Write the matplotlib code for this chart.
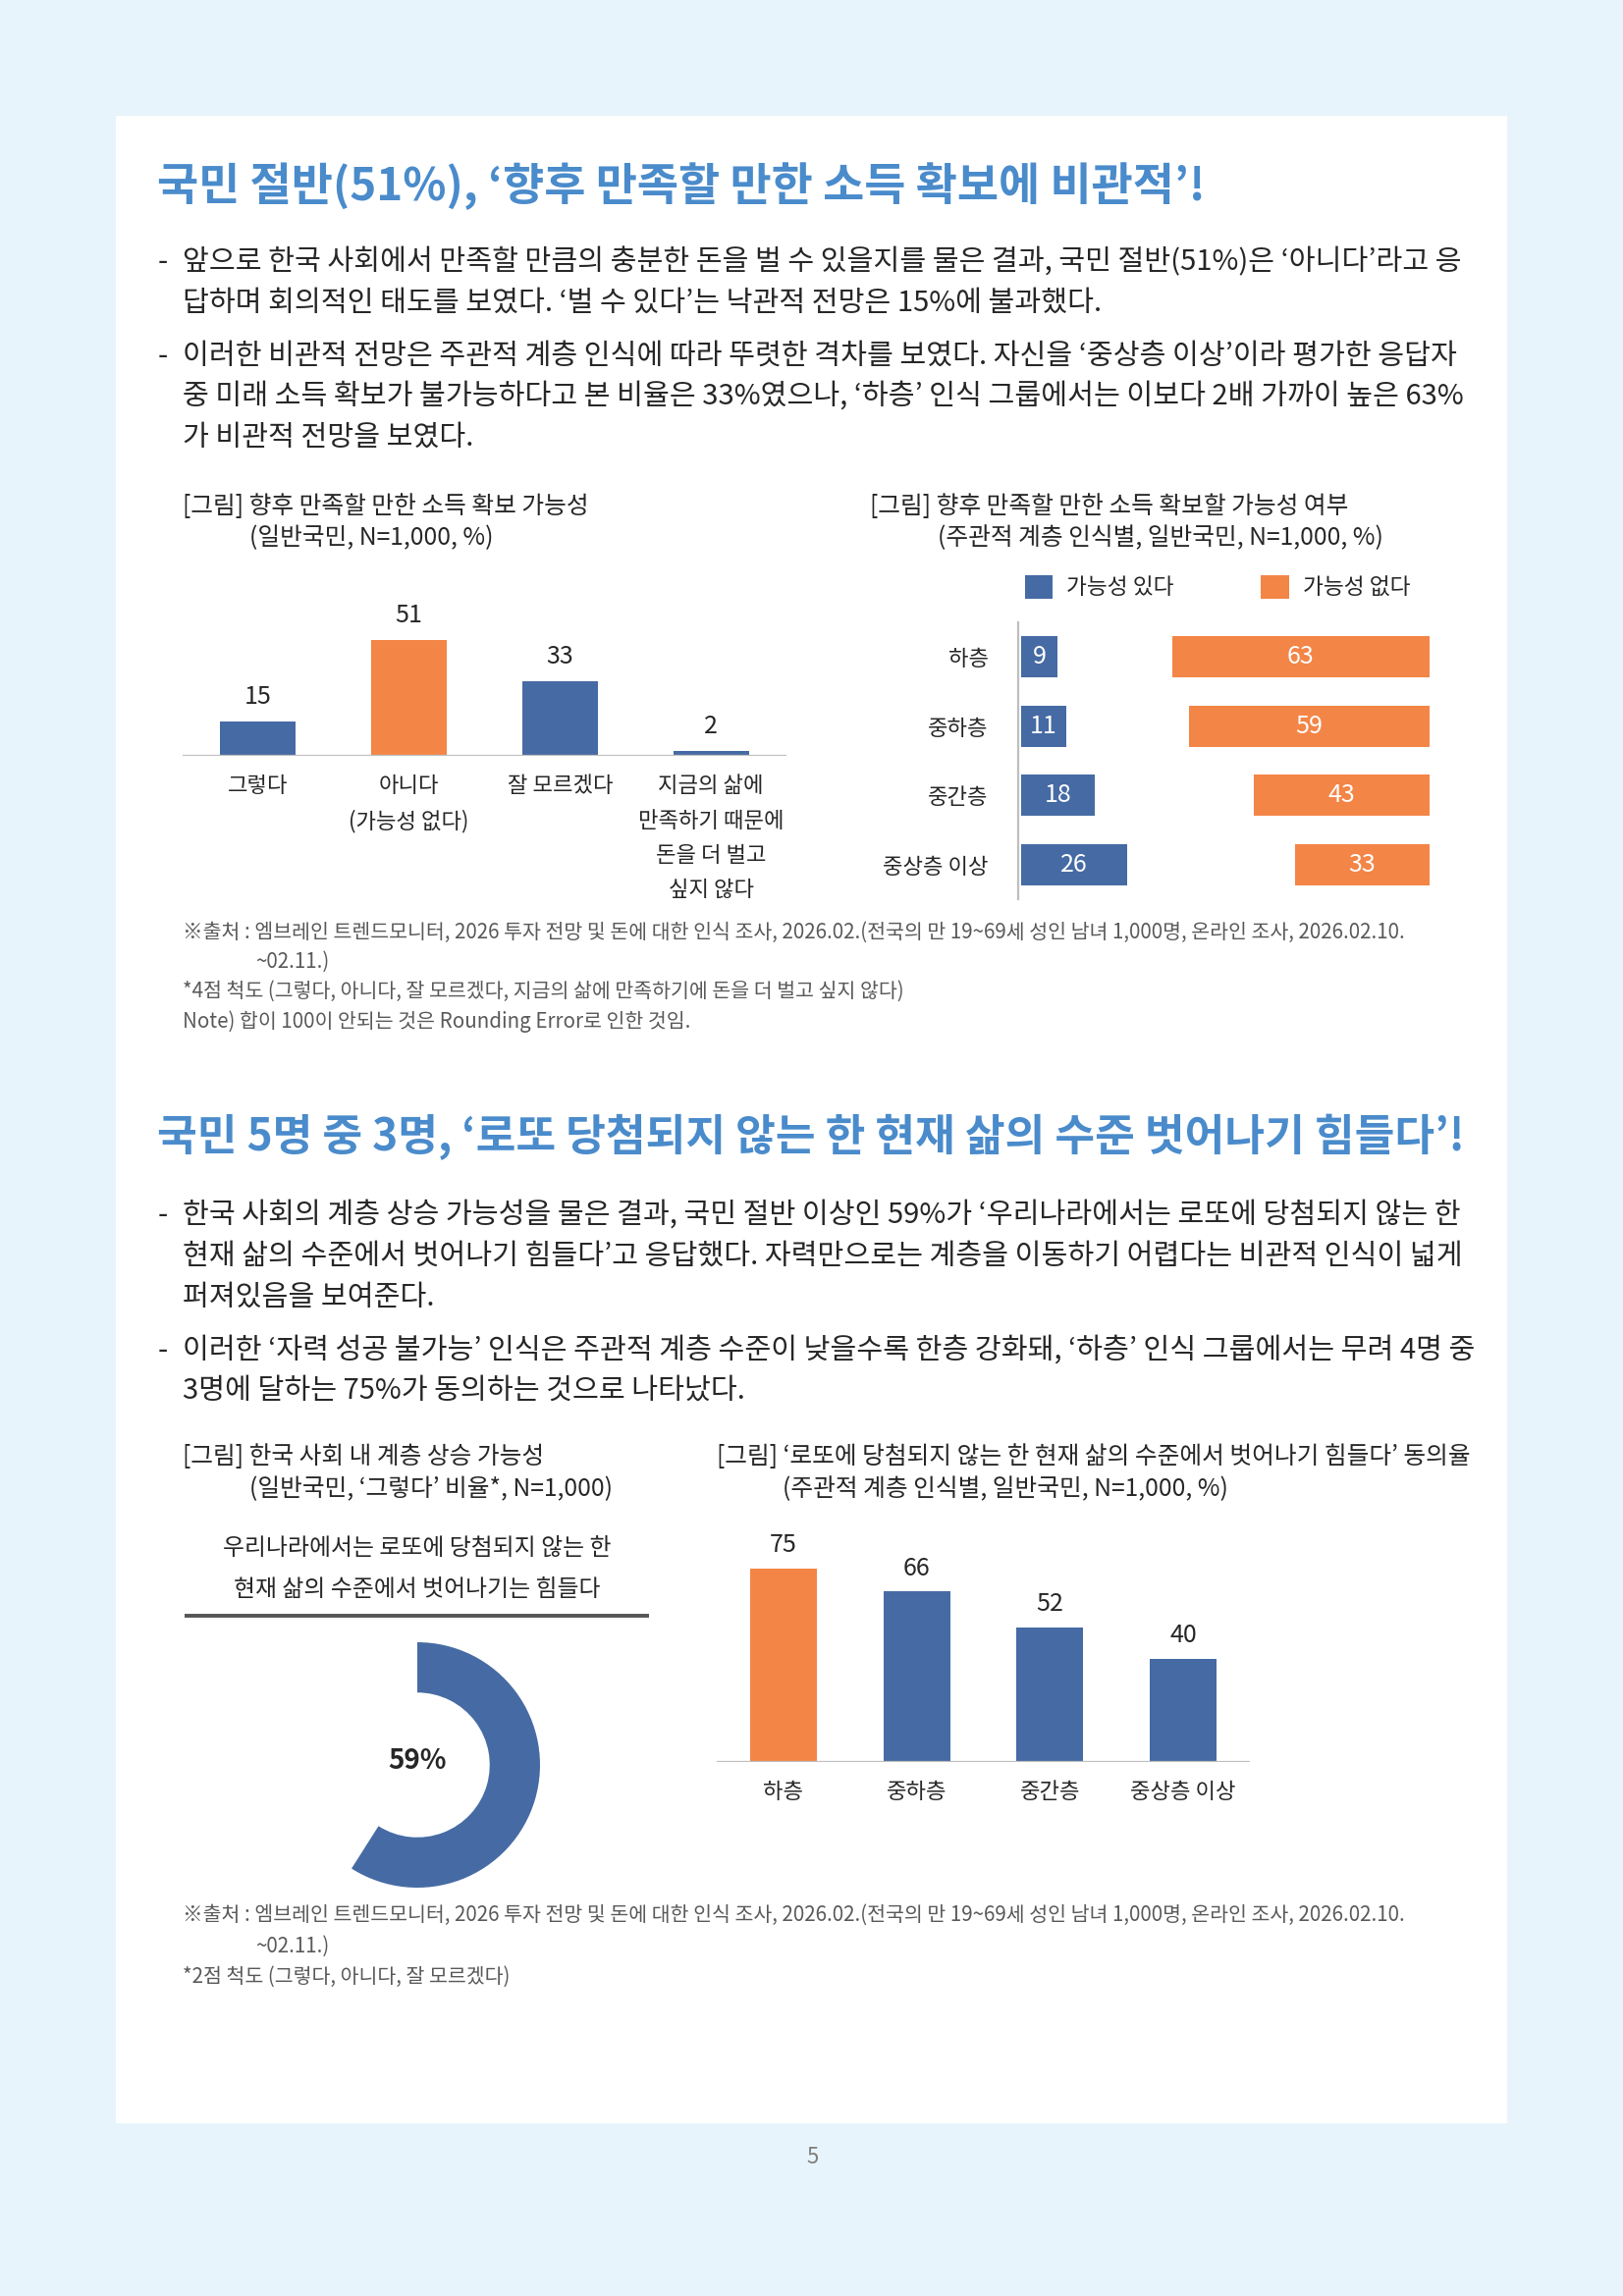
import numpy as np
import matplotlib.pyplot as plt
from matplotlib.patches import Rectangle

plt.rcParams['font.family'] = ['Noto Sans CJK KR', 'DejaVu Sans']

W, H = 1653, 2339
DPI = 200

BLUE = '#466BA4'
ORANGE = '#F38547'
TITLE_BLUE = '#4A8BCB'
TXT = '#262626'
GREY = '#595959'

BODY_FS = 10.5
NOTE_FS = 7.4
CAP_FS = 8.9

# --- data ---
income_cats = ['그렇다', '아니다\n(가능성 없다)', '잘 모르겠다',
               '지금의 삶에\n만족하기 때문에\n돈을 더 벌고\n싶지 않다']
income_vals = [15, 51, 33, 2]
income_colors = [BLUE, ORANGE, BLUE, BLUE]

class_cats = ['하층', '중하층', '중간층', '중상층 이상']
possible_yes = [9, 11, 18, 26]
possible_no = [63, 59, 43, 33]
legend_labels = ['가능성 있다', '가능성 없다']

mobility_yes = 59  # '그렇다' 비율
lotto_agree = [75, 66, 52, 40]
lotto_colors = [ORANGE, BLUE, BLUE, BLUE]

title1 = '국민 절반(51%), ‘향후 만족할 만한 소득 확보에 비관적’!'
title2 = '국민 5명 중 3명, ‘로또 당첨되지 않는 한 현재 삶의 수준 벗어나기 힘들다’!'

para1 = [
    ['앞으로 한국 사회에서 만족할 만큼의 충분한 돈을 벌 수 있을지를 물은 결과, 국민 절반(51%)은 ‘아니다’라고 응',
     '답하며 회의적인 태도를 보였다. ‘벌 수 있다’는 낙관적 전망은 15%에 불과했다.'],
    ['이러한 비관적 전망은 주관적 계층 인식에 따라 뚜렷한 격차를 보였다. 자신을 ‘중상층 이상’이라 평가한 응답자',
     '중 미래 소득 확보가 불가능하다고 본 비율은 33%였으나, ‘하층’ 인식 그룹에서는 이보다 2배 가까이 높은 63%',
     '가 비관적 전망을 보였다.'],
]
para2 = [
    ['한국 사회의 계층 상승 가능성을 물은 결과, 국민 절반 이상인 59%가 ‘우리나라에서는 로또에 당첨되지 않는 한',
     '현재 삶의 수준에서 벗어나기 힘들다’고 응답했다. 자력만으로는 계층을 이동하기 어렵다는 비관적 인식이 넓게',
     '퍼져있음을 보여준다.'],
    ['이러한 ‘자력 성공 불가능’ 인식은 주관적 계층 수준이 낮을수록 한층 강화돼, ‘하층’ 인식 그룹에서는 무려 4명 중',
     '3명에 달하는 75%가 동의하는 것으로 나타났다.'],
]

src = '※출처 : 엠브레인 트렌드모니터, 2026 투자 전망 및 돈에 대한 인식 조사, 2026.02.(전국의 만 19~69세 성인 남녀 1,000명, 온라인 조사, 2026.02.10.'
notes1 = ['*4점 척도 (그렇다, 아니다, 잘 모르겠다, 지금의 삶에 만족하기에 돈을 더 벌고 싶지 않다)',
          'Note) 합이 100이 안되는 것은 Rounding Error로 인한 것임.']
notes2 = ['*2점 척도 (그렇다, 아니다, 잘 모르겠다)']

fig = plt.figure(figsize=(W / DPI, H / DPI), dpi=DPI)
fig.patch.set_facecolor('#E8F4FC')

bg = fig.add_axes([0, 0, 1, 1])
bg.set_xlim(0, W)
bg.set_ylim(H, 0)
bg.axis('off')
bg.add_patch(Rectangle((118, 118), 1417, 2045, facecolor='white', edgecolor='none'))


def px_axes(x0, y0, x1, y1):
    return fig.add_axes([x0 / W, 1 - y1 / H, (x1 - x0) / W, (y1 - y0) / H])


def paragraphs(paras, ys):
    i = 0
    for lines in paras:
        for j, line in enumerate(lines):
            if j == 0:
                bg.text(161, ys[i], '-', fontsize=BODY_FS, color=TXT, va='center')
            bg.text(186, ys[i], line, fontsize=BODY_FS, color=TXT, va='center')
            i += 1


def footnotes(ys, extra):
    bg.text(186, ys[0], src, fontsize=NOTE_FS, color=GREY, va='center')
    bg.text(260, ys[1], '~02.11.)', fontsize=NOTE_FS, color=GREY, va='center')
    for y, s in zip(ys[2:], extra):
        bg.text(186, y, s, fontsize=NOTE_FS, color=GREY, va='center')


# --- section 1 text ---
bg.text(160, 190, title1, fontsize=16.5, fontweight='bold', color=TITLE_BLUE, va='center')
paragraphs(para1, [267, 309, 363, 404, 446])

bg.text(186, 516, '[그림] 향후 만족할 만한 소득 확보 가능성', fontsize=CAP_FS, color=TXT, va='center')
bg.text(254, 548, '(일반국민, N=1,000, %)', fontsize=CAP_FS, color=TXT, va='center')
bg.text(886, 516, '[그림] 향후 만족할 만한 소득 확보할 가능성 여부', fontsize=CAP_FS, color=TXT, va='center')
bg.text(955, 548, '(주관적 계층 인식별, 일반국민, N=1,000, %)', fontsize=CAP_FS, color=TXT, va='center')

# chart 1: vertical bars
ax1 = px_axes(186, 600, 801, 770)
x = np.arange(len(income_vals))
b1 = ax1.bar(x, income_vals, width=0.5, color=income_colors)
ax1.set_xlim(-0.5, 3.5)
ax1.set_ylim(0, 170 / 2.31)
for rect, v in zip(b1, income_vals):
    ax1.annotate(str(v), (rect.get_x() + rect.get_width() / 2, v), xytext=(0, 9),
                 textcoords='offset points', ha='center', va='center', fontsize=9, color=TXT)
ax1.axhline(0, color='#BFBFBF', lw=0.8)
for s in ax1.spines.values():
    s.set_visible(False)
ax1.set_yticks([])
ax1.set_xticks(x, income_cats, fontsize=8, color=TXT, va='top', linespacing=1.68)
ax1.tick_params(axis='x', length=0, pad=7)

# chart 2: horizontal bars, 100% basis
ax2 = px_axes(1040, 634, 1456, 916)
y = np.arange(len(class_cats))
no_left = [100 - v for v in possible_no]
h1 = ax2.barh(y, possible_yes, height=0.6, color=BLUE, label=legend_labels[0])
h2 = ax2.barh(y, possible_no, left=no_left, height=0.6, color=ORANGE, label=legend_labels[1])
ax2.bar_label(h1, label_type='center', color='white', fontsize=9)
ax2.bar_label(h2, label_type='center', color='white', fontsize=9)
ax2.set_xlim(0, 100)
ax2.set_ylim(3.5, -0.5)
for k in ['top', 'right', 'bottom']:
    ax2.spines[k].set_visible(False)
ax2.spines['left'].set_color('#BFBFBF')
ax2.spines['left'].set_linewidth(0.8)
ax2.spines['left'].set_position(('outward', 1))
ax2.set_xticks([])
ax2.set_yticks(y, class_cats, fontsize=8, color=TXT)
ax2.tick_params(axis='y', length=0, pad=11)
ax2.legend(handles=[h1, h2], loc='center left', bbox_to_anchor=(1044 / W, 1 - 598 / H),
           bbox_transform=fig.transFigure, ncol=2, frameon=False, fontsize=8.2,
           handlelength=1.25, handleheight=1.25, handletextpad=0.6, columnspacing=3.9,
           borderpad=0, borderaxespad=0, labelcolor=TXT)

footnotes([950, 980, 1010, 1041], notes1)

# --- section 2 text ---
bg.text(160, 1159, title2, fontsize=15.95, fontweight='bold', color=TITLE_BLUE, va='center')
paragraphs(para2, [1238, 1280, 1322, 1376, 1417])

bg.text(186, 1484, '[그림] 한국 사회 내 계층 상승 가능성', fontsize=CAP_FS, color=TXT, va='center')
bg.text(254, 1517, '(일반국민, ‘그렇다’ 비율*, N=1,000)', fontsize=CAP_FS, color=TXT, va='center')
bg.text(730, 1484, '[그림] ‘로또에 당첨되지 않는 한 현재 삶의 수준에서 벗어나기 힘들다’ 동의율',
        fontsize=CAP_FS, color=TXT, va='center')
bg.text(797, 1517, '(주관적 계층 인식별, 일반국민, N=1,000, %)', fontsize=CAP_FS, color=TXT, va='center')

# chart 3: donut
bg.text(425, 1577, '우리나라에서는 로또에 당첨되지 않는 한', fontsize=8.6, color=TXT, ha='center', va='center')
bg.text(425, 1619, '현재 삶의 수준에서 벗어나기는 힘들다', fontsize=8.6, color=TXT, ha='center', va='center')
bg.plot([188, 661], [1646, 1646], color='#555555', lw=1.4, solid_capstyle='butt')

ax3 = px_axes(300, 1673, 550, 1923)
ax3.pie([mobility_yes, 100 - mobility_yes], startangle=90, counterclock=False,
        colors=[BLUE, 'none'], radius=1, wedgeprops=dict(width=0.41, edgecolor='none'))
ax3.set_xlim(-1, 1)
ax3.set_ylim(-1, 1)
ax3.set_aspect('equal')
ax3.axis('off')
ax3.text(0, 0.03, f'{mobility_yes}%', fontsize=10, fontweight='bold', color=TXT, ha='center', va='center')

# chart 4: vertical bars
ax4 = px_axes(730, 1550, 1273, 1795)
x4 = np.arange(len(lotto_agree))
b4 = ax4.bar(x4, lotto_agree, width=0.5, color=lotto_colors)
ax4.set_xlim(-0.5, 3.5)
ax4.set_ylim(0, 245 / 2.63)
for rect, v in zip(b4, lotto_agree):
    ax4.annotate(str(v), (rect.get_x() + rect.get_width() / 2, v), xytext=(0, 8.6),
                 textcoords='offset points', ha='center', va='center', fontsize=9, color=TXT)
ax4.axhline(0, color='#BFBFBF', lw=0.8)
for s in ax4.spines.values():
    s.set_visible(False)
ax4.set_yticks([])
ax4.set_xticks(x4, class_cats, fontsize=8, color=TXT)
ax4.tick_params(axis='x', length=0, pad=7)

footnotes([1951, 1983, 2014], notes2)

bg.text(828, 2198, '5', fontsize=8, color='#7F7F7F', ha='center', va='center')

fig.savefig('out.png', dpi=DPI, facecolor=fig.get_facecolor())
